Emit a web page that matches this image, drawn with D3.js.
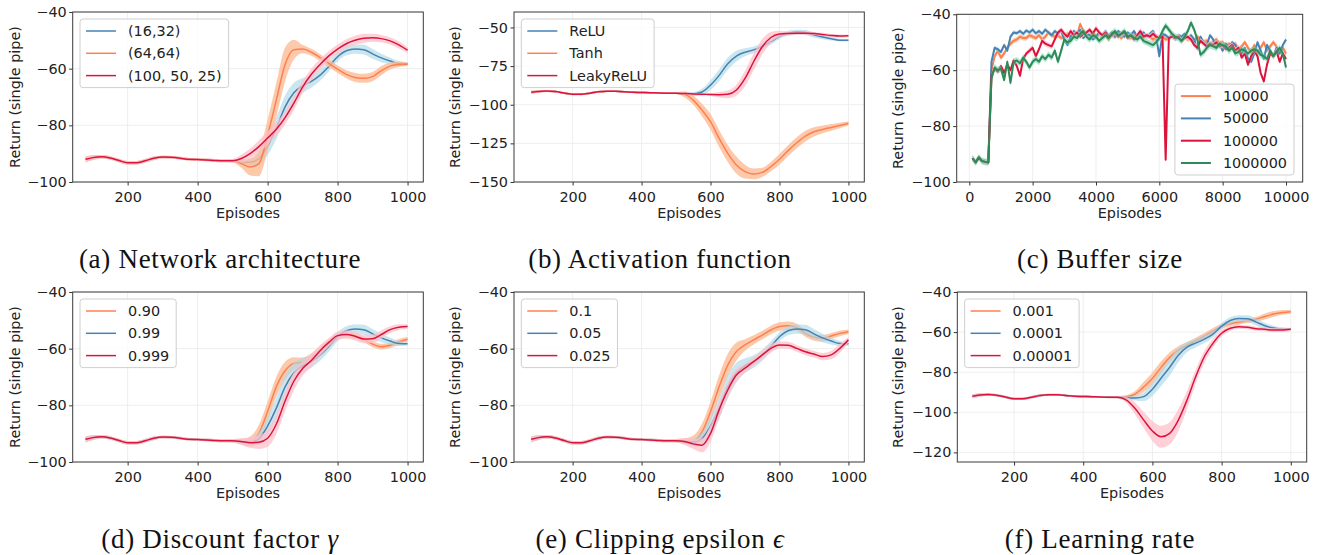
<!DOCTYPE html>
<html>
<head>
<meta charset="utf-8">
<script src="https://cdn.jsdelivr.net/npm/d3@7"></script>
<style>
  body { margin: 0; background: #fff; }
  svg { display: block; font-family: "DejaVu Sans", sans-serif; }
</style>
</head>
<body>
<svg id="fig" width="1320" height="555"></svg>
<script>
// ---- shared x grid (episodes) ----
var baseX = [80, 100, 125, 150, 175, 200, 225, 250, 275, 300, 325, 350, 375, 400, 425, 450, 475, 500];
var tailX = [525, 550, 575, 600, 625, 650, 675, 700, 725, 750, 775, 800, 825, 850, 875, 900, 925, 950, 975, 1000];

// early part, identical for every run (episodes 80..500)
var baseY = [-92.0, -91.4, -91.1, -91.5, -92.4, -93.2, -93.2, -92.5, -91.6, -91.2, -91.3, -91.6, -92.0, -92.1, -92.2, -92.4, -92.5, -92.5];
var baseBand = [1.0, 0.8, 0.6, 0.6, 0.6, 0.6, 0.6, 0.6, 0.6, 0.5, 0.5, 0.5, 0.5, 0.5, 0.5, 0.5, 0.5, 0.6];

// default configuration (blue in every panel), episodes 525..1000
var defaultTail = [-92.9, -93.0, -91.8, -87.3, -81.0, -73.5, -68.5, -66.0, -64.5, -62.3, -59.2, -55.8, -53.7, -53.1, -53.3, -54.8, -56.2, -57.3, -58.2, -58.3];
var defaultBand = [0.8, 1.2, 2.2, 3.2, 3.8, 4.0, 3.5, 2.6, 2.2, 2.0, 1.8, 1.6, 1.6, 1.6, 1.7, 1.7, 1.5, 1.2, 0.9, 0.6];

// (a) network architecture
var archLabels = ["(16,32)", "(64,64)", "(100, 50, 25)"];
var arch64 = [-93.5, -94.7, -93.5, -83.5, -71.0, -58.5, -53.3, -53.1, -54.2, -56.1, -58.1, -60.2, -62.0, -63.1, -63.4, -62.8, -60.7, -59.1, -58.5, -58.4];
var arch64Band = [1.5, 3.0, 4.5, 5.5, 6.0, 6.0, 3.5, 1.5, 1.2, 1.2, 1.3, 1.3, 1.4, 1.6, 1.6, 1.6, 1.6, 1.2, 0.9, 0.6];
var arch100 = [-91.7, -90.0, -87.5, -84.5, -81.4, -77.3, -72.2, -66.5, -62.0, -58.5, -55.5, -53.1, -51.2, -50.0, -49.3, -49.1, -49.4, -50.2, -51.6, -53.5];
var arch100Band = [1.4, 1.8, 2.2, 2.4, 2.4, 2.4, 2.4, 2.2, 2.0, 1.9, 1.7, 1.6, 1.6, 1.6, 1.6, 1.4, 1.3, 1.3, 1.3, 1.1];

// (b) activation function
var actLabels = ["ReLU", "Tanh", "LeakyReLU"];
var actTanh = [-93.3, -97.0, -103.4, -111.0, -121.8, -131.5, -139.0, -143.3, -144.8, -143.8, -140.0, -135.3, -129.7, -124.6, -120.3, -117.5, -116.0, -114.7, -113.4, -112.1];
var actTanhBand = [2.0, 3.0, 4.0, 5.0, 5.5, 5.5, 5.5, 4.5, 3.5, 3.0, 3.0, 3.5, 3.5, 3.5, 3.5, 3.0, 2.5, 2.2, 1.8, 1.2];
var actLeaky = [-92.8, -93.0, -93.2, -93.4, -93.5, -93.3, -90.5, -83.0, -72.2, -62.5, -56.5, -54.3, -53.9, -53.7, -53.7, -53.9, -54.5, -55.2, -55.6, -55.4];
var actLeakyBand = [0.8, 0.8, 0.8, 1.0, 1.8, 2.5, 3.5, 5.0, 5.5, 5.0, 3.5, 2.2, 1.2, 1.0, 1.0, 1.0, 1.0, 1.0, 1.0, 0.8];

// (c) buffer size, episodes 100..10000 every 100
var bufLabels = ["10000", "50000", "100000", "1000000"];
var buf10000 = [-91.5, -93, -91.2, -92.5, -92.8, -93.0,
  -60, -55, -53, -55.5, -54, -52, -50.5, -49.5, -49, -48,
  -48.5, -48.5, -47.5, -48, -48.5, -47.5, -49, -48, -46.5, -47.5,
  -48, -47.5, -48.5, -48, -47, -48, -46.5, -47.5, -43.5, -46,
  -47, -47.5, -46.5, -48, -47, -48, -47.5, -49, -47.5, -48,
  -47, -48.5, -47, -48, -48.5, -47.5, -48.5, -47.5, -48.5, -47.5,
  -48, -49, -48, -48.5, -47.5, -49, -48.5, -47.5, -48.5, -48,
  -49.5, -48, -49, -48.5, -49.5, -48, -49, -50, -49.5, -50.5,
  -50, -49, -50.5, -50, -51.5, -50.5, -52, -50.5, -52.5, -51.5,
  -50, -52, -53.5, -51, -54, -52, -50, -53, -51.5, -50,
  -51.5, -54, -52, -54];
var buf50000 = [-91.5, -93, -91.2, -92.5, -92.8, -93.0,
  -57, -52, -52.5, -53.5, -51, -53, -48, -46.5, -46.8, -46,
  -47, -45.8, -46.5, -45.5, -46.8, -46, -47, -45.5, -46.5, -47.5,
  -46, -47, -46, -49, -51, -48, -46, -47, -45.5, -48.5,
  -47, -47.5, -49, -48, -46.5, -47.5, -46, -47.5, -46.5, -48,
  -46, -47, -48, -46.5, -47.5, -46, -48, -47, -46.5, -48,
  -47, -46, -48, -55, -47, -47.5, -48.5, -47.5, -49, -47.5,
  -48, -47, -48.5, -47.5, -49, -52.5, -48, -50, -51, -47.5,
  -49, -52, -51, -53, -50.5, -52, -50, -51, -53, -54,
  -52, -56, -57, -54, -50, -53, -56, -51, -53, -55,
  -52, -54, -51, -49];
var buf100000 = [-91.5, -93, -91.2, -92.5, -92.8, -93.0,
  -62, -59.5, -60.5, -58.5, -61, -58, -60, -56.5, -58.5, -62,
  -56, -54, -53, -52, -55, -52.5, -49.5, -50.5, -51, -51.5,
  -49, -46.5, -45.5, -47, -48, -46, -47.5, -46.5, -48, -47,
  -46.5, -45.5, -47, -45, -46.5, -47.5, -46.5, -48, -47.5, -46.5,
  -48, -47, -46.5, -48.5, -47.5, -49, -47.5, -46, -48, -47.5,
  -48, -47, -48, -48.5, -48, -92, -48.5, -48, -48.5, -48,
  -49.5, -48.5, -48, -49, -51, -52, -49.5, -50.5, -51.5, -50.5,
  -51, -50, -51.5, -51, -52.5, -52, -51, -53, -52, -55.5,
  -54, -58, -55, -53, -55, -61, -64, -58, -54, -55,
  -53, -57, -54, -56];
var buf1000000 = [-91.5, -93, -91.2, -92.5, -92.8, -93.0,
  -63, -59, -60, -59.5, -63.5, -57, -64.5, -57, -56.5, -57.5,
  -55.5, -57, -59, -57, -56, -57, -55, -56, -54.5, -55.5,
  -53, -57, -53, -49, -50, -49.5, -48, -48.5, -47, -46,
  -48, -49, -47.5, -48, -49.5, -48.5, -47.5, -48.5, -47, -46,
  -47.5, -47, -46, -48, -47.5, -48.5, -49, -48, -49.5, -50,
  -50.5, -51, -50, -48.5, -46, -44, -45.5, -47, -48, -48.5,
  -49.5, -48, -46, -43, -45.5, -49, -54.5, -53.5, -52, -51,
  -51.5, -52, -50.5, -51, -51.5, -53, -52, -54, -53.5, -52.5,
  -53, -54, -53, -52.5, -53, -54.5, -55, -56, -53, -55,
  -53.5, -52, -54, -59];
var bufSpread = [0.9, 0.8, 1.0, 1.2];

// (d) discount factor
var gamLabels = ["0.90", "0.99", "0.999"];
var gam090 = [-92.8, -92.8, -89.9, -82.2, -73.4, -67.8, -65.2, -64.7, -63.1, -60.7, -58.1, -55.8, -55.1, -55.5, -56.7, -58.4, -59.3, -58.8, -57.6, -56.7];
var gam090Band = [1.0, 1.8, 3.0, 3.5, 3.5, 3.2, 2.2, 1.6, 1.5, 1.5, 1.3, 1.2, 1.0, 1.0, 1.0, 1.0, 1.0, 1.0, 1.0, 0.8];
var gam0999 = [-92.8, -93.2, -93.0, -91.6, -86.6, -78.5, -71.5, -67.0, -64.2, -60.7, -57.8, -55.4, -55.0, -55.6, -56.6, -56.5, -55.0, -53.3, -52.4, -52.2];
var gam0999Band = [1.2, 1.8, 2.4, 3.0, 3.5, 3.5, 3.2, 2.6, 2.2, 2.0, 1.6, 1.5, 1.5, 1.5, 1.5, 1.5, 1.5, 1.2, 1.0, 0.8];

// (e) clipping epsilon
var clipLabels = ["0.1", "0.05", "0.025"];
var clip01 = [-92.6, -92.5, -89.5, -82.2, -73.4, -65.8, -61.0, -58.7, -56.9, -55.2, -53.4, -52.2, -51.9, -52.5, -54.6, -56.0, -56.4, -55.5, -54.6, -54.0];
var clip01Band = [1.0, 1.8, 3.0, 3.5, 4.0, 4.0, 3.2, 2.0, 1.6, 1.5, 1.5, 1.5, 1.5, 1.3, 1.2, 1.2, 1.2, 1.0, 1.0, 0.8];
var clip0025 = [-92.8, -93.6, -94.1, -89.9, -81.6, -74.6, -69.3, -66.9, -64.6, -62.2, -59.9, -58.7, -58.8, -59.9, -61.1, -61.9, -62.8, -62.2, -59.9, -56.9];
var clip0025Band = [1.2, 1.8, 2.5, 3.0, 3.0, 2.8, 2.2, 1.6, 1.5, 1.5, 1.5, 1.2, 1.2, 1.2, 1.2, 1.2, 1.3, 1.5, 1.5, 1.0];

// (f) learning rate
var lrLabels = ["0.001", "0.0001", "0.00001"];
var lr1e3 = [-92.2, -90.9, -87.3, -83.1, -77.6, -72.6, -69.0, -66.5, -64.3, -62.0, -59.5, -57.2, -55.8, -55.0, -54.4, -53.6, -52.2, -51.0, -50.2, -49.8];
var lr1e3Band = [0.8, 1.5, 2.5, 3.0, 3.0, 2.5, 2.0, 1.5, 1.5, 1.5, 1.5, 1.2, 1.2, 1.2, 1.2, 1.2, 1.5, 1.5, 1.2, 1.0];
var lr1e4 = [-92.8, -92.9, -92.2, -88.5, -83.0, -77.5, -71.5, -67.5, -65.5, -63.5, -61.0, -57.0, -54.2, -53.2, -53.3, -55.0, -56.8, -58.0, -58.5, -58.5];
var lr1e4Band = [0.8, 1.2, 2.2, 3.2, 4.0, 4.2, 3.6, 2.6, 2.2, 2.0, 1.8, 1.6, 1.6, 1.6, 1.7, 1.7, 1.5, 1.2, 0.9, 0.6];
var lr1e5 = [-93.9, -98.1, -103.9, -109.3, -112.2, -110.5, -103.9, -93.9, -82.3, -72.3, -65.6, -60.6, -58.1, -57.3, -57.6, -58.3, -58.6, -59.0, -59.0, -58.6];
var lr1e5Band = [1.5, 3.0, 4.0, 5.0, 5.5, 5.5, 5.5, 4.5, 3.5, 3.0, 2.2, 1.6, 1.2, 1.0, 1.0, 1.0, 1.0, 1.0, 1.0, 0.8];

// ticks and captions
var xTicksEp = [200, 400, 600, 800, 1000];
var xTicksBuf = [0, 2000, 4000, 6000, 8000, 10000];
var yTicks100 = [-100, -80, -60, -40];
var yTicks150 = [-150, -125, -100, -75, -50];
var yTicks120 = [-120, -100, -80, -60, -40];
var captionText = ["(a) Network architecture", "(b) Activation function", "(c) Buffer size",
                   "(d) Discount factor ", "(e) Clipping epsilon ", "(f) Learning rate"];
var captionMath = ["", "", "", "\u03b3", "\u03f5", ""];

// colours
var styles = {
  orange: { line: "#ff7f50", band: "#fdbb96", op: 0.8 },
  blue:   { line: "#4682b4", band: "#add8e6", op: 0.65 },
  red:    { line: "#dc143c", band: "#ffc0cb", op: 0.75 },
  green:  { line: "#2e8b57", band: "#66cdaa", op: 0.5 }
};

// build the run objects
var fullX = baseX.concat(tailX);
function run(label, color, tail, band) {
  return { label: label, style: styles[color], x: fullX, y: baseY.concat(tail), band: baseBand.concat(band) };
}
var bufX = d3.range(100, 10001, 100);
function bufRun(i, color, vals) {
  return { label: bufLabels[i], style: styles[color], x: bufX, y: vals, band: vals.map(function () { return bufSpread[i]; }) };
}

var panels = [
  { box: [72.7, 12, 423.3, 182], xDomain: [43, 1045], yDomain: [-100, -40], xTicks: xTicksEp, yTicks: yTicks100, yLabelX: 15, capX: 220, capY: 268, legend: "tl", lw: 1.5,
    series: [run(archLabels[0], "blue", defaultTail, defaultBand), run(archLabels[1], "orange", arch64, arch64Band), run(archLabels[2], "red", arch100, arch100Band)] },
  { box: [514, 12, 864.3, 182], xDomain: [30, 1046], yDomain: [-150, -40], xTicks: xTicksEp, yTicks: yTicks150, yLabelX: 455, capX: 660, capY: 268, legend: "tl", lw: 1.5,
    series: [run(actLabels[0], "blue", defaultTail, defaultBand), run(actLabels[1], "orange", actTanh, actTanhBand), run(actLabels[2], "red", actLeaky, actLeakyBand)] },
  { box: [956.7, 14.3, 1302.7, 182], xDomain: [-398, 10527], yDomain: [-100, -40], xTicks: xTicksBuf, yTicks: yTicks100, yLabelX: 898, capX: 1100, capY: 268, legend: "br", lw: 2, linear: true,
    series: [bufRun(0, "orange", buf10000), bufRun(1, "blue", buf50000), bufRun(2, "red", buf100000), bufRun(3, "green", buf1000000)] },
  { box: [72.7, 292, 423.3, 462], xDomain: [43, 1045], yDomain: [-100, -40], xTicks: xTicksEp, yTicks: yTicks100, yLabelX: 15, capX: 220, capY: 548, legend: "tl", lw: 1.5,
    series: [run(gamLabels[0], "orange", gam090, gam090Band), run(gamLabels[1], "blue", defaultTail, defaultBand), run(gamLabels[2], "red", gam0999, gam0999Band)] },
  { box: [514, 292, 864.3, 462], xDomain: [30, 1046], yDomain: [-100, -40], xTicks: xTicksEp, yTicks: yTicks100, yLabelX: 455, capX: 660, capY: 548, legend: "tl", lw: 1.5,
    series: [run(clipLabels[0], "orange", clip01, clip01Band), run(clipLabels[1], "blue", defaultTail, defaultBand), run(clipLabels[2], "red", clip0025, clip0025Band)] },
  { box: [957.3, 292, 1306.7, 462], xDomain: [36, 1046], yDomain: [-124.8, -40], xTicks: xTicksEp, yTicks: yTicks120, yLabelX: 898, capX: 1100, capY: 548, legend: "tl", lw: 1.5,
    series: [run(lrLabels[0], "orange", lr1e3, lr1e3Band), run(lrLabels[1], "blue", lr1e4, lr1e4Band), run(lrLabels[2], "red", lr1e5, lr1e5Band)] }
];

var svg = d3.select("#fig");
var defs = svg.append("defs");
var fontSize = 14.4;

panels.forEach(function (p, k) {
  var left = p.box[0], top = p.box[1], right = p.box[2], bottom = p.box[3];
  var x = d3.scaleLinear().domain(p.xDomain).range([left, right]);
  var y = d3.scaleLinear().domain(p.yDomain).range([bottom, top]);
  var curve = p.linear ? d3.curveLinear : d3.curveMonotoneX;
  var g = svg.append("g");

  // grid
  g.selectAll(".gx").data(p.xTicks).enter().append("line")
    .attr("x1", d => x(d)).attr("x2", d => x(d)).attr("y1", top).attr("y2", bottom)
    .attr("stroke", "#ececec").attr("stroke-width", 0.9);
  g.selectAll(".gy").data(p.yTicks).enter().append("line")
    .attr("x1", left).attr("x2", right).attr("y1", d => y(d)).attr("y2", d => y(d))
    .attr("stroke", "#ececec").attr("stroke-width", 0.9);

  // data, clipped to the axes
  defs.append("clipPath").attr("id", "clip" + k).append("rect")
    .attr("x", left).attr("y", top).attr("width", right - left).attr("height", bottom - top);
  var plot = g.append("g").attr("clip-path", "url(#clip" + k + ")");

  p.series.forEach(function (s) {
    var pts = s.x.map(function (v, i) { return { x: v, y: s.y[i], e: s.band[i] }; });
    var area = d3.area().curve(curve)
      .x(d => x(d.x)).y0(d => y(d.y - d.e)).y1(d => y(d.y + d.e));
    var line = d3.line().curve(curve).x(d => x(d.x)).y(d => y(d.y));
    plot.append("path").datum(pts).attr("d", area)
      .attr("fill", s.style.band).attr("fill-opacity", s.style.op);
    plot.append("path").datum(pts).attr("d", line)
      .attr("fill", "none").attr("stroke", s.style.line).attr("stroke-width", p.lw)
      .attr("stroke-linejoin", "round");
  });

  // axes
  var xAxis = g.append("g").attr("transform", "translate(0," + bottom + ")")
    .call(d3.axisBottom(x).tickValues(p.xTicks).tickFormat(d3.format("d")).tickSize(3.5).tickPadding(6.5));
  var yAxis = g.append("g").attr("transform", "translate(" + left + ",0)")
    .call(d3.axisLeft(y).tickValues(p.yTicks).tickFormat(d3.format("d")).tickSize(3.5).tickPadding(2.5));
  [xAxis, yAxis].forEach(function (a) {
    a.select(".domain").remove();
    a.selectAll("line").attr("stroke", "#333");
    a.selectAll("text").attr("font-family", "DejaVu Sans").attr("font-size", fontSize).attr("fill", "#222");
  });

  // spines
  g.append("rect").attr("x", left).attr("y", top).attr("width", right - left).attr("height", bottom - top)
    .attr("fill", "none").attr("stroke", "#3a3a3a").attr("stroke-width", 1);

  // axis labels
  g.append("text").attr("x", (left + right) / 2).attr("y", bottom + 35.5)
    .attr("text-anchor", "middle").attr("font-size", fontSize).attr("fill", "#222").text("Episodes");
  g.append("text").attr("transform", "translate(" + p.yLabelX + "," + ((top + bottom) / 2) + ") rotate(-90)")
    .attr("text-anchor", "middle").attr("dy", "0.35em").attr("font-size", fontSize).attr("fill", "#222")
    .text("Return (single pipe)");

  // legend
  var lg = g.append("g");
  var rowGap = 22.3, n = p.series.length;
  var box = lg.append("rect").attr("rx", 3).attr("fill", "#fff").attr("fill-opacity", 0.8)
    .attr("stroke", "#cfcfcf").attr("stroke-width", 1);
  var texts = p.series.map(function (s, i) {
    lg.append("line").attr("x1", 6).attr("x2", 36).attr("y1", 12 + i * rowGap).attr("y2", 12 + i * rowGap)
      .attr("stroke", s.style.line).attr("stroke-width", p.lw);
    return lg.append("text").attr("x", 48).attr("y", 12 + i * rowGap).attr("dy", "0.35em")
      .attr("font-size", fontSize).attr("fill", "#222").text(s.label);
  });
  var maxW = d3.max(texts, t => t.node().getComputedTextLength());
  var bw = 48 + maxW + 7, bh = 24 + (n - 1) * rowGap;
  box.attr("width", bw).attr("height", bh);
  var bx = p.legend === "tl" ? left + 7.3 : right - 8.7 - bw;
  var by = p.legend === "tl" ? top + 7 : bottom - 7 - bh;
  lg.attr("transform", "translate(" + bx + "," + by + ")");

  // caption
  var cap = svg.append("text").attr("x", p.capX).attr("y", p.capY).attr("text-anchor", "middle")
    .attr("font-family", "Liberation Serif, serif").attr("font-size", 27).attr("letter-spacing", 0.7)
    .attr("fill", "#111");
  cap.append("tspan").text(captionText[k]);
  if (captionMath[k]) cap.append("tspan").attr("font-style", "italic").text(captionMath[k]);
});
</script>
</body>
</html>
